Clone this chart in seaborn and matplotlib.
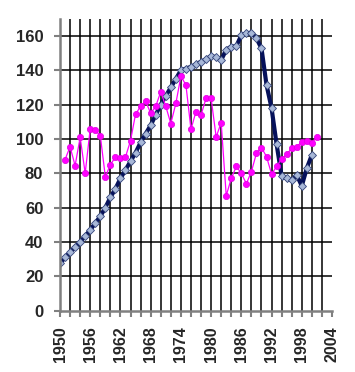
import matplotlib
matplotlib.use("Agg")
import matplotlib.pyplot as plt
import seaborn as sns
import pandas as pd

years_blue = list(range(1950, 2001))
blue_vals = [27.5, 31, 34, 37, 40, 43.5, 47, 51, 55, 60,
             66, 71, 77, 82, 87, 92, 98, 103, 108, 114,
             120, 125, 130, 135, 140, 141, 142, 143.5, 145, 146.5,
             148.3, 147.6, 146, 152, 153.8, 154, 160.5, 161.5, 162, 158.6,
             152.8, 131.5, 118, 97, 78.4, 77, 76, 79, 72.7, 83,
             90.7]

years_pink = list(range(1951, 2002))
pink_vals = [88, 95.5, 84.5, 101, 80, 106, 105, 102, 78, 85,
             89.5, 89, 89.5, 99, 114.5, 119, 122, 115, 119, 127.5,
             119, 109, 120.7, 136.5, 131.5, 105.6, 116, 114, 123.7, 123.7,
             101.2, 109.5, 67, 77, 84, 80, 74, 81, 91.7, 95,
             89.7, 79.6, 84, 88.4, 91, 94.6, 95.5, 98.4, 98.6, 97.5,
             101.3]

xtick_labels = list(range(1950, 2005, 6))
ytick_vals = list(range(0, 161, 20))

sns.set_style("white")
plt.rcParams['font.family'] = ['Liberation Sans', 'DejaVu Sans']

df_blue = pd.DataFrame({"year": years_blue, "value": blue_vals})
df_pink = pd.DataFrame({"year": years_pink, "value": pink_vals})

fig = plt.figure(figsize=(3.55, 3.72), dpi=100)
ax = fig.add_axes([60/355, 1-310.7/372, (332-60)/355, (310.7-18.8)/372])

# grid lines
for yv in ytick_vals[1:]:
    ax.axhline(yv, color='black', lw=1.1, zorder=1)
for xv in range(1952, 2003, 2):
    ax.axvline(xv, color='black', lw=1.1, zorder=1)

sns.lineplot(data=df_blue, x="year", y="value", ax=ax, color='#06115a',
             lw=3.0, marker='D', markersize=4.5, markerfacecolor='#a8b8d8',
             markeredgecolor='#34447a', markeredgewidth=0.6, zorder=3)
sns.lineplot(data=df_pink, x="year", y="value", ax=ax, color='#ff00ff',
             lw=0.9, marker='o', markersize=4.5, markerfacecolor='#ff00ff',
             markeredgecolor='#e000e0', markeredgewidth=0.5, zorder=4)

ax.set_xlim(1950, 2004)
ax.set_ylim(0, 170)
ax.set_xlabel("")
ax.set_ylabel("")
ax.set_xticks(range(1950, 2005, 2))
ax.set_xticklabels([str(y) if y in xtick_labels else "" for y in range(1950, 2005, 2)],
                   rotation=90, fontsize=11.5, fontweight='bold')
ax.set_yticks(ytick_vals)
ax.set_yticklabels([str(v) for v in ytick_vals], fontsize=12, fontweight='bold')
ax.tick_params(axis='both', direction='out', length=4, width=1.5, color='#808080',
               bottom=True, left=True)
ax.tick_params(axis='y', pad=8)
ax.tick_params(axis='x', pad=7)
for s in ['top', 'right']:
    ax.spines[s].set_visible(False)
for s in ['left', 'bottom']:
    ax.spines[s].set_color('#808080')
    ax.spines[s].set_linewidth(1.8)
    ax.spines[s].set_zorder(5)

fig.savefig("out.png", dpi=100)
